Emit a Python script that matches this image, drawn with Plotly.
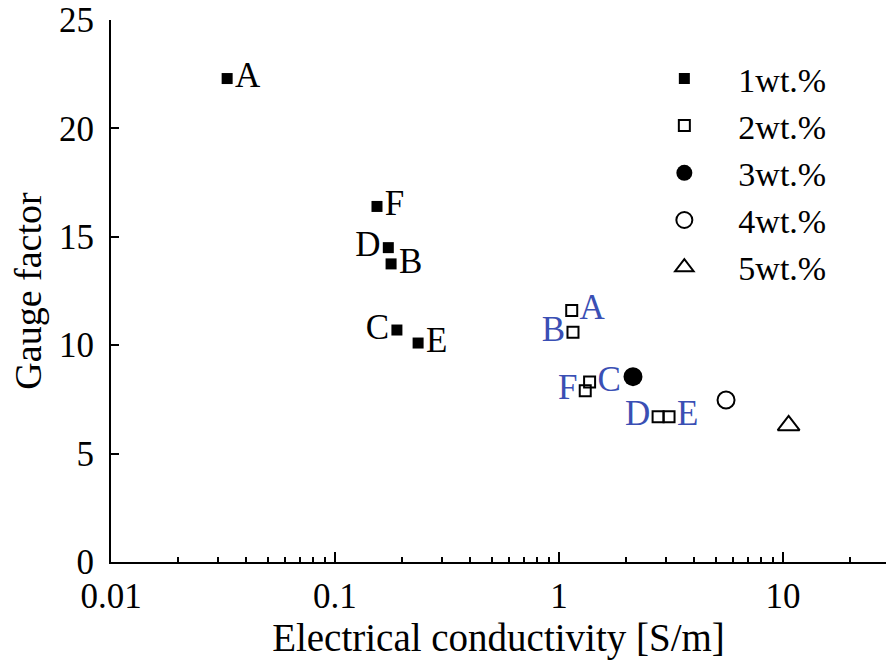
import plotly.graph_objects as go

FONT = "Liberation Serif, Times New Roman, serif"

# 1 wt.% samples
w1_labels = ["A", "B", "C", "D", "E", "F"]
w1_cond = [0.033, 0.178, 0.189, 0.173, 0.235, 0.154]
w1_gf = [22.3, 13.75, 10.7, 14.5, 10.1, 16.4]
w1_pos = ["middle right", "middle right", "middle left", "middle left", "middle right", "middle right"]

# 2 wt.% samples
w2_labels = ["A", "B", "C", "D", "E", "F"]
w2_cond = [1.14, 1.155, 1.37, 2.77, 3.1, 1.31]
w2_gf = [11.6, 10.6, 8.3, 6.7, 6.7, 7.9]
w2_pos = ["middle right", "middle left", "middle right", "middle left", "middle right", "middle left"]

# 3, 4, 5 wt.%
w3_cond = [2.14]
w3_gf = [8.55]
w4_cond = [5.57]
w4_gf = [7.47]
w5_cond = [10.6]
w5_gf = [6.3]

x_tickvals = [0.01, 0.1, 1, 10]
x_ticktext = ["0.01", "0.1", "1", "10"]
y_tickvals = [0, 5, 10, 15, 20, 25]

LABEL_BLUE = "#3a4fb4"
SP = "\u2002\u2002"

fig = go.Figure()
fig.add_trace(go.Scatter(
    x=w1_cond, y=w1_gf, mode="markers+text", name=SP + "1wt.%", legendgroup="g1",
    text=w1_labels, textposition=w1_pos,
    textfont=dict(family=FONT, size=35, color="black"),
    marker=dict(symbol="square", size=11, color="black", line=dict(width=0)),
))
fig.add_trace(go.Scatter(
    x=w2_cond, y=w2_gf, mode="markers+text", name=SP + "2wt.%", legendgroup="g2",
    text=w2_labels, textposition=w2_pos,
    textfont=dict(family=FONT, size=35, color=LABEL_BLUE),
    marker=dict(symbol="square-open", size=11, color="black", line=dict(width=2)),
))
fig.add_trace(go.Scatter(
    x=w3_cond, y=w3_gf, mode="markers", name=SP + "3wt.%", legendgroup="g3",
    marker=dict(symbol="circle", size=19, color="black"),
))
fig.add_trace(go.Scatter(
    x=w4_cond, y=w4_gf, mode="markers", name=SP + "4wt.%", legendgroup="g4",
    marker=dict(symbol="circle-open", size=17, color="black", line=dict(width=2)),
))
fig.add_trace(go.Scatter(
    x=w5_cond, y=w5_gf, mode="markers", name=SP + "5wt.%", legendgroup="g5",
    marker=dict(symbol="triangle-up-open", size=19, color="black", line=dict(width=2)),
))

fig.update_layout(
    width=886, height=661,
    margin=dict(l=111, r=0, t=20, b=99),
    plot_bgcolor="white", paper_bgcolor="white",
    font=dict(family=FONT, size=35, color="black"),
    showlegend=True,
    legend=dict(
        x=0.714, y=0.945, xanchor="left", yanchor="top",
        bgcolor="rgba(0,0,0,0)", borderwidth=0,
        font=dict(family=FONT, size=34, color="black"),
        tracegroupgap=0, itemsizing="trace",
    ),
    xaxis=dict(
        type="log", range=[-2, 1.46],
        tickvals=x_tickvals, ticktext=x_ticktext,
        ticks="inside", ticklen=10, tickwidth=1.5, tickcolor="black",
        minor=dict(ticks="inside", ticklen=5, tickwidth=1.5, tickcolor="black", dtick="D1", showgrid=False),
        showline=True, linecolor="black", linewidth=2, mirror=False,
        showgrid=False, zeroline=False,
        tickfont=dict(family=FONT, size=35, color="black"),
        ticklabelstandoff=2,
        title=dict(text="Electrical conductivity [S/m]", font=dict(family=FONT, size=39, color="black"), standoff=4),
    ),
    yaxis=dict(
        range=[0, 25], tickvals=y_tickvals,
        ticks="inside", ticklen=8, tickwidth=1.5, tickcolor="black",
        showline=True, linecolor="black", linewidth=2, mirror=False,
        showgrid=False, zeroline=False,
        tickfont=dict(family=FONT, size=35, color="black"),
        ticklabelstandoff=8,
        title=dict(text="Gauge factor", font=dict(family=FONT, size=38, color="black"), standoff=6),
    ),
)

fig.write_html("out.html")
